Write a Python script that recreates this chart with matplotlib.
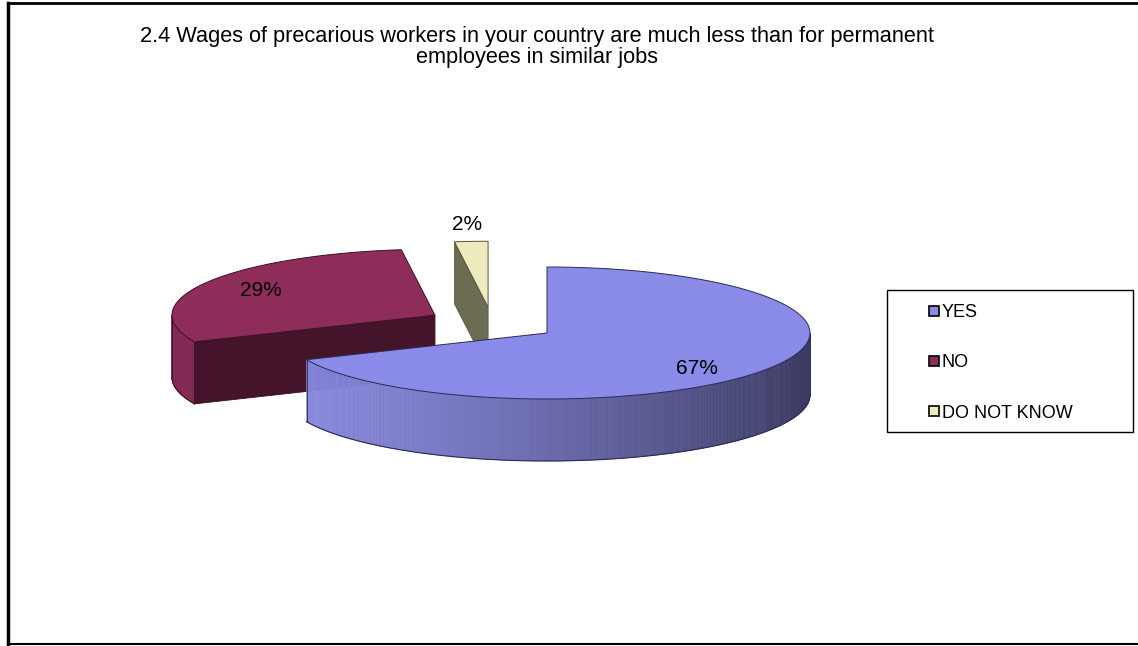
import numpy as np
import matplotlib
matplotlib.use("Agg")
import matplotlib.pyplot as plt
from matplotlib.patches import Polygon, Rectangle
from matplotlib.lines import Line2D

plt.rcParams['font.family'] = ['Liberation Sans', 'DejaVu Sans']

# Survey answers
title = ("2.4 Wages of precarious workers in your country are much less than for permanent\n"
         "employees in similar jobs")
answers = ["YES", "NO", "DO NOT KNOW"]
shares = [67, 29, 2]
pct_labels = ["67%", "29%", "2%"]

# Styling per slice
top_colors = ["#8a8ae8", "#8e2c5a", "#eeecbe"]
side_light = ["#8888de", "#822a55", "#8a8a66"]
side_dark = ["#3a3a62", "#3e1226", "#6c6c52"]
cut_colors = ["#5a5aa0", "#44142a", "#6c6c52"]
edge_colors = ["#2a2a55", "#3a1024", "#555540"]
explode = [(0.0, 0.0), (-0.426, 0.27), (-0.224, 0.39)]   # (x in a, y in b)
label_r = [0.68, 0.76, 1.26]
label_drop = [0.18, 0.0, 0.0]   # extra downward shift, in disc depths

# Ellipse geometry of the 3-D disc (data units)
A = 1.0
B = 66 / 263
DEPTH = 62 / 263

fig = plt.figure(figsize=(11.38, 6.46), dpi=100)
ax = fig.add_axes([0, 0, 1, 1])
ax.set_xlim(-547 / 263, (1138 - 547) / 263)
ax.set_ylim(-(646 - 333) / 263, 333 / 263)
ax.axis('off')

fracs = np.array(shares, dtype=float) / sum(shares)
bounds = []
start = 90.0
for f in fracs:
    end = start - 360 * f
    bounds.append((end, start))   # (lo, hi) in degrees
    start = end


def pt(cx, cy, deg):
    r = np.radians(deg)
    return cx + A * np.cos(r), cy + B * np.sin(r)


def draw_slice(i, z):
    lo, hi = bounds[i]
    cx = explode[i][0] * A
    cy = explode[i][1] * B
    ec = edge_colors[i]

    # radial cut faces (only those turned towards the viewer)
    for ang, normal in ((hi, hi + 90), (lo, lo - 90)):
        if np.sin(np.radians(normal)) < -1e-6:
            px, py = pt(cx, cy, ang)
            quad = [(cx, cy), (px, py), (px, py - DEPTH), (cx, cy - DEPTH)]
            ax.add_patch(Polygon(quad, closed=True, facecolor=cut_colors[i],
                                 edgecolor=ec, lw=0.6, zorder=z))

    # curved outer wall, shaded from left to right
    angs = np.linspace(lo, hi, 600)
    front = np.sin(np.radians(angs)) < 0
    if front.any():
        fa = angs[front]
        c0 = np.array(matplotlib.colors.to_rgb(side_light[i]))
        c1 = np.array(matplotlib.colors.to_rgb(side_dark[i]))
        for k in range(len(fa) - 1):
            x0, y0 = pt(cx, cy, fa[k])
            x1, y1 = pt(cx, cy, fa[k + 1])
            t = ((np.cos(np.radians(fa[k])) + 1) / 2) ** 1.3
            col = c0 * (1 - t) + c1 * t
            ax.add_patch(Polygon([(x0, y0), (x1, y1), (x1, y1 - DEPTH), (x0, y0 - DEPTH)],
                                 closed=True, facecolor=col, edgecolor=col, lw=0.4,
                                 zorder=z))
        xs, ys = pt(cx, cy, fa)
        ax.plot(xs, ys - DEPTH, color=ec, lw=0.8, zorder=z + 0.1)
        ax.plot([xs[0], xs[0]], [ys[0], ys[0] - DEPTH], color=ec, lw=0.6, zorder=z + 0.1)
        ax.plot([xs[-1], xs[-1]], [ys[-1], ys[-1] - DEPTH], color=ec, lw=0.6, zorder=z + 0.1)

    # top face
    xs, ys = pt(cx, cy, np.linspace(lo, hi, 400))
    top = np.column_stack([np.r_[cx, xs], np.r_[cy, ys]])
    ax.add_patch(Polygon(top, closed=True, facecolor=top_colors[i],
                         edgecolor=ec, lw=0.7, zorder=z + 0.5))

    mid = (lo + hi) / 2
    lx = cx + label_r[i] * A * np.cos(np.radians(mid))
    ly = cy + label_r[i] * B * np.sin(np.radians(mid)) - label_drop[i] * DEPTH
    ax.text(lx, ly, pct_labels[i], fontsize=15, ha='center', va='center',
            color='black', zorder=10)


# back slices first, the big front slice last
for z, i in enumerate((2, 1, 0)):
    draw_slice(i, 2 + z)

fig.text(537 / 1138, 1 - 47 / 646, title, ha='center', va='center',
         fontsize=15.7, linespacing=1.05)

# legend box
fig.add_artist(Rectangle((887 / 1138, (646 - 432) / 646), 246 / 1138, 142 / 646,
                         transform=fig.transFigure, facecolor='white',
                         edgecolor='black', lw=1.0, zorder=1))
handles = [Line2D([], [], linestyle='none', marker='s', markersize=6.5,
                  markerfacecolor=c, markeredgecolor='black', markeredgewidth=1.2)
           for c in top_colors]
fig.legend(handles, answers, loc='upper left',
           bbox_to_anchor=(929 / 1138, 1 - 304 / 646), frameon=False,
           fontsize=13, handlelength=0.6, handletextpad=0.1,
           labelspacing=1.85, borderpad=0, borderaxespad=0)

# outer frame
fig.add_artist(Line2D([7.5 / 1138, 7.5 / 1138], [1 - 3 / 646, 2 / 646],
                      transform=fig.transFigure, color='black', lw=2.5))
fig.add_artist(Line2D([7.5 / 1138, 1], [1 - 3 / 646, 1 - 3 / 646],
                      transform=fig.transFigure, color='black', lw=2.0))
fig.add_artist(Line2D([7.5 / 1138, 1], [2 / 646, 2 / 646],
                      transform=fig.transFigure, color='black', lw=1.5))

fig.savefig("out.png", dpi=100, facecolor='white')
